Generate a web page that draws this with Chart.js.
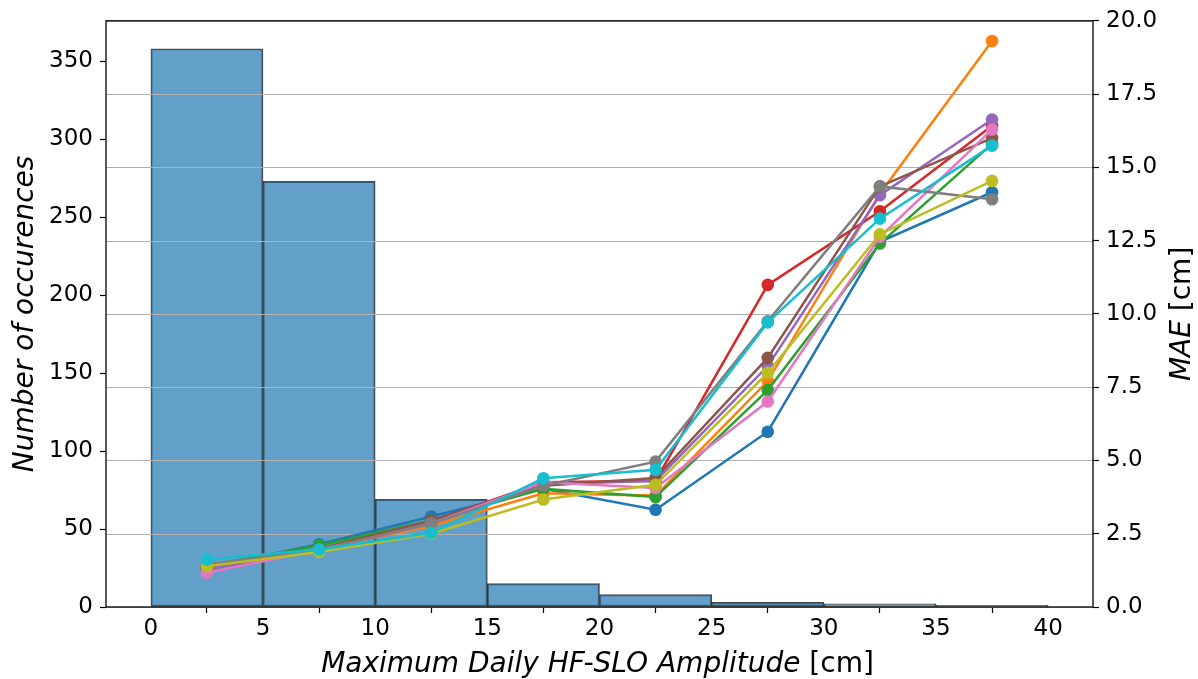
<!DOCTYPE html>
<html>
<head>
<meta charset="utf-8">
<script src="https://cdn.jsdelivr.net/npm/chart.js@4/dist/chart.umd.min.js"></script>
<style>
  html, body { margin: 0; padding: 0; background: #fff; }
  canvas { display: block; }
</style>
</head>
<body>
<canvas id="chart" width="1198" height="679"></canvas>
<script>
// ── data ──
const binCenters = [2.5, 7.5, 12.5, 17.5, 22.5, 27.5, 32.5, 37.5];
const counts     = [358, 273, 69, 15, 8, 3, 2, 1];

const maeBlue   = [1.35, 2.14, 3.09, 4.03, 3.32, 5.98, 12.46, 14.15];
const maeOrange = [1.35, 1.97, 2.77, 3.88, 3.80, 7.71, 14.10, 19.31];
const maeGreen  = [1.40, 2.10, 2.95, 4.03, 3.75, 7.40, 12.40, 15.80];
const maeRed    = [1.30, 1.97, 2.92, 4.26, 4.31, 10.99, 13.50, 16.42];
const maePurple = [1.30, 1.97, 2.90, 4.20, 4.30, 8.22, 14.05, 16.63];
const maeBrown  = [1.40, 1.97, 2.95, 4.14, 4.40, 8.50, 14.35, 16.00];
const maePink   = [1.17, 1.95, 2.84, 4.26, 4.06, 7.01, 12.63, 16.29];
const maeGray   = [1.45, 1.95, 2.84, 4.14, 4.96, 9.75, 14.35, 13.91];
const maeOlive  = [1.39, 1.88, 2.50, 3.67, 4.17, 7.99, 12.72, 14.54];
const maeCyan   = [1.62, 1.96, 2.53, 4.39, 4.68, 9.71, 13.25, 15.74];

const xTicks     = [0, 5, 10, 15, 20, 25, 30, 35, 40];
const countTicks = [0, 50, 100, 150, 200, 250, 300, 350];
const maeTicks   = [0, 2.5, 5, 7.5, 10, 12.5, 15, 17.5, 20];

const series = [maeBlue, maeOrange, maeGreen, maeRed, maePurple, maeBrown, maePink, maeGray, maeOlive, maeCyan];
const colors = ['#1f77b4', '#ff7f0e', '#2ca02c', '#d62728', '#9467bd', '#8c564b', '#e377c2', '#7f7f7f', '#bcbd22', '#17becf'];

const FONT = "'DejaVu Sans', sans-serif";
Chart.defaults.color = '#000';
Chart.defaults.font.family = FONT;

// ── datasets ──
const datasets = [{
  type: 'bar',
  label: 'Occurences',
  data: binCenters.map((x, i) => ({ x, y: counts[i] })),
  yAxisID: 'y',
  backgroundColor: 'rgba(31,119,180,0.7)',
  borderColor: 'rgba(0,0,0,0.7)',
  borderWidth: 1.3,
  borderSkipped: false,
  barPercentage: 1,
  categoryPercentage: 1,
  order: 20
}];
series.forEach((vals, i) => {
  datasets.push({
    type: 'line',
    label: 'MAE ' + (i + 1),
    data: binCenters.map((x, j) => ({ x, y: vals[j] })),
    yAxisID: 'y2',
    borderColor: colors[i],
    backgroundColor: colors[i],
    borderWidth: 2.5,
    pointRadius: 6.3,
    pointBorderWidth: 0,
    pointBackgroundColor: colors[i],
    tension: 0,
    order: 10 - i   // matplotlib draws later series on top
  });
});

// grid from right axis sits above the bars but under the lines; frame + mixed-style titles
const decor = {
  id: 'decor',
  afterDatasetDraw(chart, args) {
    if (args.index !== 0) return;
    const { ctx, chartArea: a } = chart;
    const y2 = chart.scales.y2;
    ctx.save();
    ctx.strokeStyle = '#b0b0b0';
    ctx.lineWidth = 1.1;
    maeTicks.forEach(v => {
      const py = Math.round(y2.getPixelForValue(v)) + 0.5;
      ctx.beginPath(); ctx.moveTo(a.left, py); ctx.lineTo(a.right, py); ctx.stroke();
    });
    ctx.restore();
  },
  afterDraw(chart) {
    const { ctx, chartArea: a } = chart;
    ctx.save();
    ctx.strokeStyle = '#000';
    ctx.lineWidth = 1.3;
    ctx.strokeRect(a.left, a.top, a.right - a.left, a.bottom - a.top);

    const drawParts = (parts, x, y, angle) => {
      ctx.save();
      ctx.translate(x, y);
      ctx.rotate(angle);
      ctx.fillStyle = '#000';
      ctx.textBaseline = 'alphabetic';
      ctx.textAlign = 'left';
      const fonts = parts.map(p => (p.it ? 'italic ' : '') + '28px ' + FONT);
      let total = 0;
      parts.forEach((p, i) => { ctx.font = fonts[i]; total += ctx.measureText(p.t).width; });
      let cx = -total / 2;
      parts.forEach((p, i) => { ctx.font = fonts[i]; ctx.fillText(p.t, cx, 0); cx += ctx.measureText(p.t).width; });
      ctx.restore();
    };
    const midY = (a.top + a.bottom) / 2;
    drawParts([{ t: 'Maximum Daily HF-SLO Amplitude', it: true }, { t: ' [cm]' }], (a.left + a.right) / 2 - 2, 672, 0);
    drawParts([{ t: 'Number of occurences', it: true }], 33, midY, -Math.PI / 2);
    drawParts([{ t: 'MAE', it: true }, { t: ' [cm]' }], 1190, midY, -Math.PI / 2);
    ctx.restore();
  }
};

const tickGrid = { display: true, drawOnChartArea: false, drawTicks: true, tickLength: 6, tickWidth: 1.2, tickColor: '#000' };

new Chart(document.getElementById('chart'), {
  data: { datasets },
  options: {
    responsive: false,
    devicePixelRatio: 1,
    animation: false,
    layout: { padding: { top: 18, left: 0, right: 0, bottom: 0 } },
    plugins: { legend: { display: false }, tooltip: { enabled: false } },
    scales: {
      x: {
        type: 'linear',
        offset: false,
        min: -2, max: 42,
        afterBuildTicks: s => { s.ticks = xTicks.map(v => ({ value: v })); },
        afterFit: s => { s.height = 72; },
        ticks: { font: { size: 23 }, padding: 2, maxRotation: 0, autoSkip: false },
        grid: tickGrid,
        border: { display: false }
      },
      y: {
        position: 'left',
        min: 0, max: 375.9,
        afterBuildTicks: s => { s.ticks = countTicks.map(v => ({ value: v })); },
        afterFit: s => { s.width = 106; },
        ticks: { font: { size: 23 }, padding: 7, autoSkip: false },
        grid: tickGrid,
        border: { display: false }
      },
      y2: {
        position: 'right',
        min: 0, max: 20,
        afterBuildTicks: s => { s.ticks = maeTicks.map(v => ({ value: v })); },
        afterFit: s => { s.width = 105; },
        ticks: { font: { size: 23 }, padding: 7, autoSkip: false, callback: v => v.toFixed(1) },
        grid: tickGrid,
        border: { display: false }
      }
    }
  },
  plugins: [decor]
});
</script>
</body>
</html>
